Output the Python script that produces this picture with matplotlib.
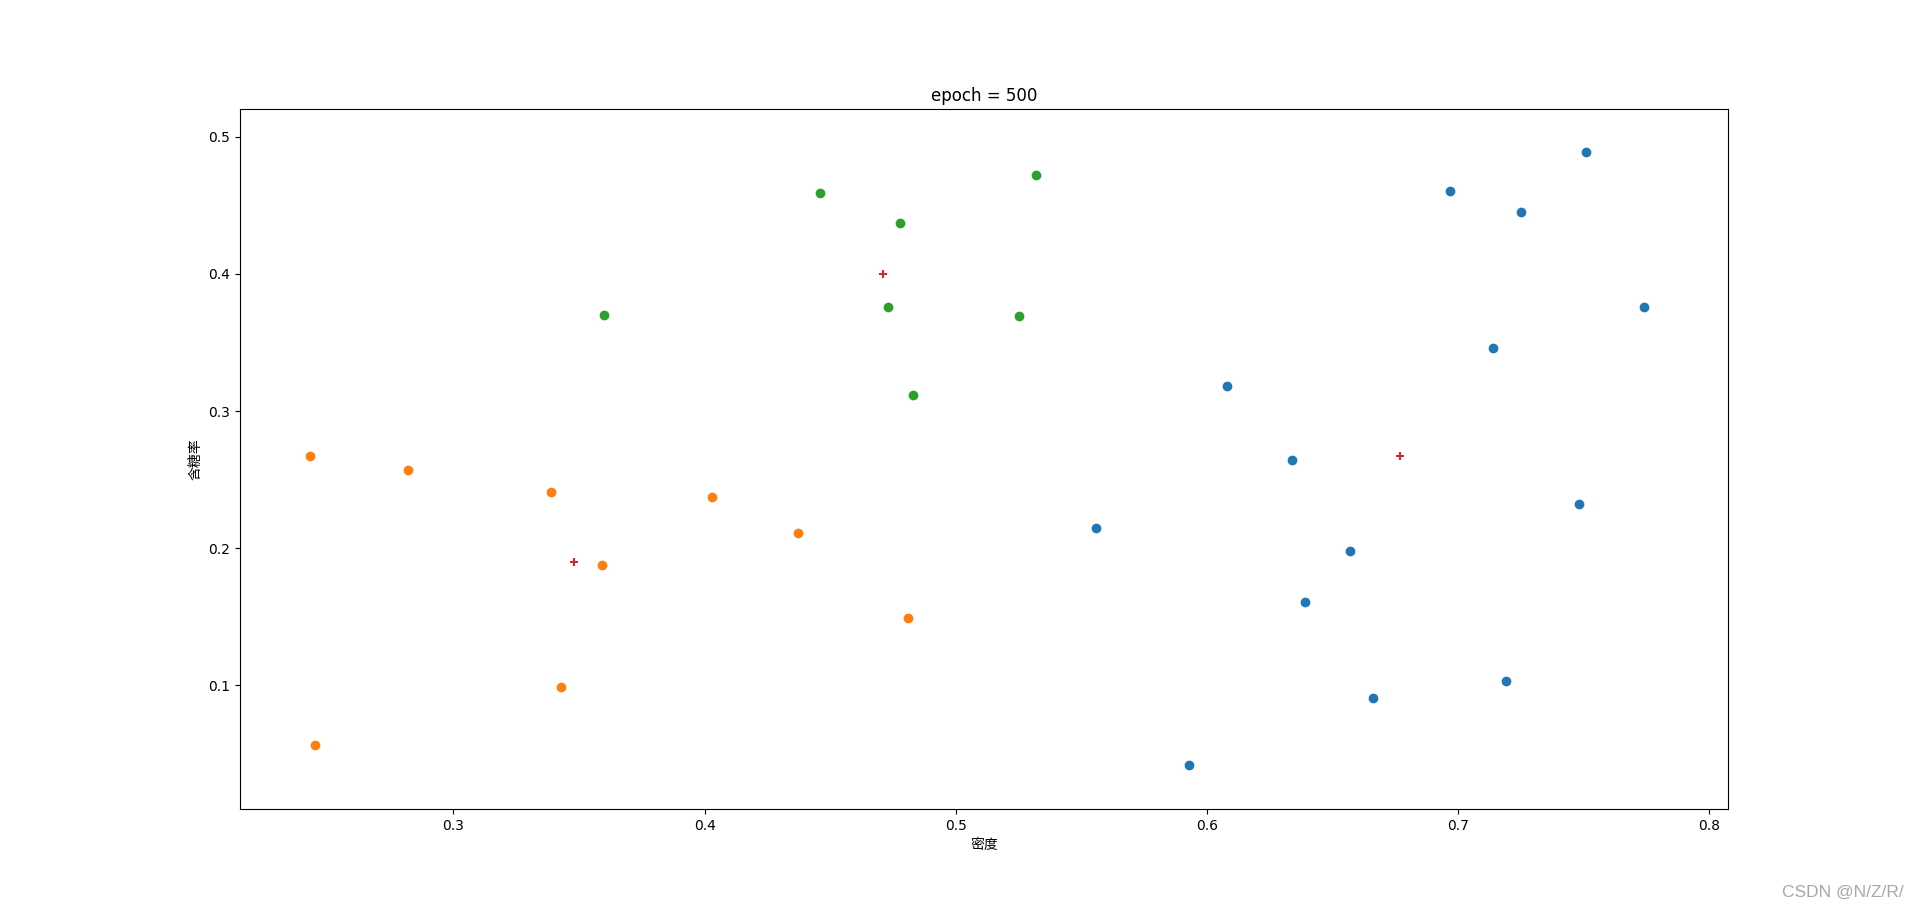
import matplotlib
matplotlib.use("Agg")
import matplotlib.pyplot as plt

# watermelon 4.0 k-means result, epoch 500
# cluster 0 (blue)
c0_density = [0.697, 0.774, 0.634, 0.608, 0.556, 0.666, 0.639, 0.657, 0.593,
              0.719, 0.748, 0.714, 0.751, 0.725]
c0_sugar = [0.460, 0.376, 0.264, 0.318, 0.215, 0.091, 0.161, 0.198, 0.042,
            0.103, 0.232, 0.346, 0.489, 0.445]
# cluster 1 (orange)
c1_density = [0.403, 0.481, 0.437, 0.243, 0.245, 0.343, 0.359, 0.339, 0.282]
c1_sugar = [0.237, 0.149, 0.211, 0.267, 0.057, 0.099, 0.188, 0.241, 0.257]
# cluster 2 (green)
c2_density = [0.360, 0.483, 0.478, 0.525, 0.532, 0.473, 0.446]
c2_sugar = [0.370, 0.312, 0.437, 0.369, 0.472, 0.376, 0.459]
# centroids
cent_density = [0.677, 0.348, 0.471]
cent_sugar = [0.267, 0.190, 0.400]

title = "epoch = 500"
xlabel = "密度"
ylabel = "含糖率"
xlim = (0.215, 0.8075)
ylim = (0.010, 0.520)


def main():
    plt.rcParams["font.family"] = ["DejaVu Sans", "Noto Sans CJK SC"]
    fig, ax = plt.subplots(figsize=(19.2, 9.09), dpi=100)
    ax.scatter(c0_density, c0_sugar)
    ax.scatter(c1_density, c1_sugar)
    ax.scatter(c2_density, c2_sugar)
    ax.scatter(cent_density, cent_sugar, marker="+", color="#d62728")
    ax.set_xlim(*xlim)
    ax.set_ylim(*ylim)
    ax.set_title(title)
    ax.set_xlabel(xlabel)
    ax.set_ylabel(ylabel)
    fig.text(0.9917, 0.0132, "CSDN @N/Z/R/", ha="right", va="baseline",
             fontsize=12.5, color="#a8a8a8", family="Liberation Sans")
    fig.savefig("out.png", dpi=100)
    plt.close(fig)


if __name__ == "__main__":
    main()
